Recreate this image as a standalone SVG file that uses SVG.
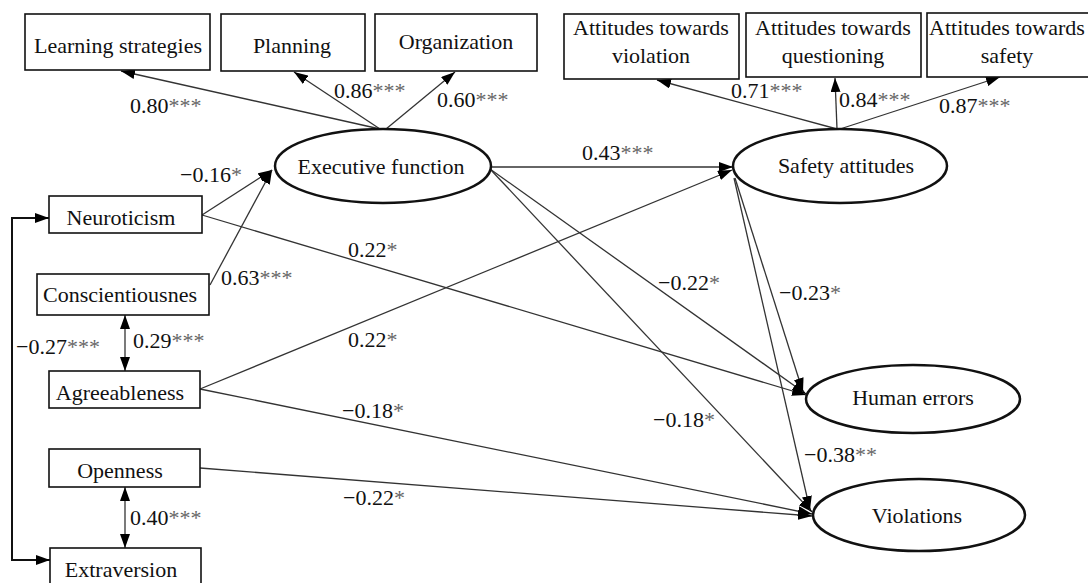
<svg xmlns="http://www.w3.org/2000/svg" width="1088" height="583" viewBox="0 0 1088 583">
<style>
text{font-family:"Times New Roman","Liberation Serif",Tinos,"DejaVu Serif",serif;font-size:22px;fill:#111}
.n{text-anchor:middle}
.box{fill:#fff;stroke:#111;stroke-width:1.6}
.ell{fill:#fff;stroke:#111;stroke-width:2.5}
.c{fill:none;stroke:#333;stroke-width:1.3;marker-end:url(#ah)}
.d{fill:none;stroke:#333;stroke-width:1.3;marker-start:url(#ah2);marker-end:url(#ah2)}
.br{fill:none;stroke:#111;stroke-width:2;marker-start:url(#ah2);marker-end:url(#ah2)}
.a{fill:#666}
</style>
<defs>
<marker id="ah" viewBox="0 0 14 10" refX="14" refY="5" markerWidth="14" markerHeight="10" markerUnits="userSpaceOnUse" orient="auto"><path d="M0,0 L14,5 L0,10 z" fill="#000"/></marker>
<marker id="ah2" viewBox="0 0 14 10" refX="14" refY="5" markerWidth="14" markerHeight="10" markerUnits="userSpaceOnUse" orient="auto-start-reverse"><path d="M0,0 L14,5 L0,10 z" fill="#000"/></marker>
</defs>

<g id="connectors">
<path class="c" d="M380,129 L121,71"/>
<path class="c" d="M380,129 L294,72"/>
<path class="c" d="M386,129 L455,72"/>
<path class="c" d="M837,129 L657,80"/>
<path class="c" d="M837,129 L835,78"/>
<path class="c" d="M840,129 L1000,77"/>
<path class="c" d="M491,167 L733,167"/>
<path class="c" d="M202,215 L272,170"/>
<path class="c" d="M210,285 L272,170"/>
<path class="c" d="M202,215 L806,395"/>
<path class="c" d="M200,389 L732,170"/>
<path class="c" d="M200,389 L812,514"/>
<path class="c" d="M200,468 L812,516"/>
<path class="c" d="M490,169 L806,394"/>
<path class="c" d="M490,169 L812,512"/>
<path class="c" d="M735,178 L803,392"/>
<path class="c" d="M734,178 L810,510"/>
<path class="d" d="M125,315 L125,371"/>
<path class="d" d="M125,487 L125,548"/>
<path class="br" d="M49,218 L12,218 L12,560 L50,560"/>
</g>

<g id="labels">
<text x="130" y="113">0.80<tspan class="a">***</tspan></text>
<text x="334" y="98">0.86<tspan class="a">***</tspan></text>
<text x="437" y="107">0.60<tspan class="a">***</tspan></text>
<text x="731" y="98">0.71<tspan class="a">***</tspan></text>
<text x="839" y="107">0.84<tspan class="a">***</tspan></text>
<text x="939" y="113">0.87<tspan class="a">***</tspan></text>
<text x="582" y="160">0.43<tspan class="a">***</tspan></text>
<text x="180" y="182">−0.16<tspan class="a">*</tspan></text>
<text x="221" y="285">0.63<tspan class="a">***</tspan></text>
<text x="348" y="257">0.22<tspan class="a">*</tspan></text>
<text x="348" y="347">0.22<tspan class="a">*</tspan></text>
<text x="342" y="418">−0.18<tspan class="a">*</tspan></text>
<text x="343" y="505">−0.22<tspan class="a">*</tspan></text>
<text x="16" y="354">−0.27<tspan class="a">***</tspan></text>
<text x="133" y="348">0.29<tspan class="a">***</tspan></text>
<text x="130" y="525">0.40<tspan class="a">***</tspan></text>
<text x="658" y="290">−0.22<tspan class="a">*</tspan></text>
<text x="779" y="300">−0.23<tspan class="a">*</tspan></text>
<text x="653" y="427">−0.18<tspan class="a">*</tspan></text>
<text x="804" y="462">−0.38<tspan class="a">**</tspan></text>
</g>

<g id="learning"><rect class="box" x="25" y="14" width="185" height="56"/><text class="n" x="118" y="53">Learning strategies</text></g>
<g id="planning"><rect class="box" x="221" y="14" width="144" height="57"/><text class="n" x="292" y="53">Planning</text></g>
<g id="organization"><rect class="box" x="375" y="14" width="162" height="57"/><text class="n" x="456" y="49">Organization</text></g>

<g id="att-violation"><rect class="box" x="564" y="14" width="175" height="65"/><text class="n" x="651" y="35">Attitudes towards</text><text class="n" x="651" y="63">violation</text></g>
<g id="att-questioning"><rect class="box" x="746" y="13" width="175" height="64"/><text class="n" x="833" y="35">Attitudes towards</text><text class="n" x="833" y="63">questioning</text></g>
<g id="att-safety"><rect class="box" x="927" y="13" width="163" height="64"/><text class="n" x="1007" y="35">Attitudes towards</text><text class="n" x="1007" y="63">safety</text></g>

<g id="executive"><ellipse class="ell" cx="383" cy="166" rx="108" ry="37"/><text class="n" x="381" y="174">Executive function</text></g>
<g id="safety"><ellipse class="ell" cx="840" cy="166" rx="107" ry="37"/><text class="n" x="846" y="173">Safety attitudes</text></g>
<g id="human"><ellipse class="ell" cx="913" cy="399" rx="107" ry="34"/><text class="n" x="913" y="405">Human errors</text></g>
<g id="violations"><ellipse class="ell" cx="919" cy="515" rx="106" ry="36"/><text class="n" x="917" y="523">Violations</text></g>

<g id="neuroticism"><rect class="box" x="49" y="196" width="153" height="37"/><text class="n" x="121" y="225">Neuroticism</text></g>
<g id="conscientiousness"><rect class="box" x="37" y="274" width="172" height="41"/><text class="n" x="120" y="302">Conscientiousnes</text></g>
<g id="agreeableness"><rect class="box" x="49" y="371" width="151" height="37"/><text class="n" x="120" y="400">Agreeableness</text></g>
<g id="openness"><rect class="box" x="49" y="449" width="151" height="38"/><text class="n" x="120" y="478">Openness</text></g>
<g id="extraversion"><rect class="box" x="50" y="548" width="151" height="45"/><text class="n" x="121" y="577">Extraversion</text></g>
</svg>
